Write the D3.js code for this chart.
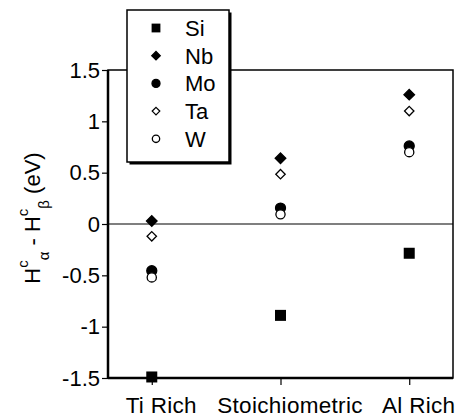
<!DOCTYPE html>
<html><head><meta charset="utf-8">
<script src="https://cdn.jsdelivr.net/npm/d3@7"></script>
<style>body{margin:0;background:#fff}</style>
</head><body><svg id="c" width="466" height="417"></svg>
<script>
const categories = ["Ti Rich", "Stoichiometric", "Al Rich"];
const seriesNames = ["Si", "Nb", "Mo", "Ta", "W"];
const Si = [-1.49, -0.89, -0.285];
const Nb = [0.03, 0.64, 1.26];
const Mo = [-0.455, 0.155, 0.76];
const Ta = [-0.12, 0.485, 1.10];
const W  = [-0.52, 0.094, 0.70];
const yTicks = [-1.5, -1, -0.5, 0, 0.5, 1, 1.5];
const yTickLabels = ["-1.5", "-1", "-0.5", "0", "0.5", "1", "1.5"];

const seriesValues = [Si, Nb, Mo, Ta, W];
const shapes = {Si:"square", Nb:"diamond", Mo:"circle", Ta:"diamond", W:"circle"};
const filled = {Si:true, Nb:true, Mo:true, Ta:false, W:false};

const svg = d3.select("#c");
const font = "'Liberation Sans', Arial, Helvetica, sans-serif";
const L = 108, R = 453, T = 70, B = 378;

const x = d3.scalePoint().domain(categories).range([L, R]).padding(0.34);
const y = d3.scaleLinear().domain([-1.5, 1.5]).range([B, T]);

// zero line
svg.append("line").attr("x1", L).attr("x2", R).attr("y1", y(0)).attr("y2", y(0))
  .attr("stroke", "#000").attr("stroke-width", 1.2);

// frame
svg.append("rect").attr("x", L).attr("y", T).attr("width", R - L).attr("height", B - T)
  .attr("fill", "none").attr("stroke", "#000").attr("stroke-width", 1.5);
svg.append("line").attr("x1", L).attr("x2", L).attr("y1", T).attr("y2", B).attr("stroke", "#000").attr("stroke-width", 2.5);
svg.append("line").attr("x1", L).attr("x2", R).attr("y1", B).attr("y2", B).attr("stroke", "#000").attr("stroke-width", 2.5);

// y axis
const yAxis = d3.axisLeft(y).tickValues(yTicks).tickSize(6).tickPadding(2)
  .tickFormat((d, i) => yTickLabels[i]);
const gy = svg.append("g").attr("transform", `translate(${L},0)`).call(yAxis);
gy.select(".domain").remove();
gy.selectAll("line").attr("stroke-width", 1.2);
gy.selectAll("text").attr("font-family", font).attr("font-size", 22).attr("fill", "#000");

// x axis
const xAxis = d3.axisBottom(x).tickSize(7).tickPadding(12);
const gx = svg.append("g").attr("transform", `translate(0,${B})`).call(xAxis);
gx.select(".domain").remove();
gx.selectAll("line").attr("stroke-width", 1.2);
gx.selectAll("text").attr("font-family", font).attr("font-size", 22.5).attr("fill", "#000")
  .attr("dx", 9).attr("letter-spacing", 0.3);

// markers
function drawMarker(g, shape, fill, cx, cy, s) {
  const sw = 1.3;
  if (shape === "square") {
    const h = 5.5 * s;
    g.append("rect").attr("x", cx - h).attr("y", cy - h).attr("width", 2 * h).attr("height", 2 * h)
      .attr("fill", "#000");
  } else if (shape === "diamond") {
    const r = (fill ? 5.3 : 4.7) * s;
    g.append("path").attr("d", `M${cx},${cy - r}L${cx + r},${cy}L${cx},${cy + r}L${cx - r},${cy}Z`)
      .attr("fill", fill ? "#000" : "#fff").attr("stroke", "#000").attr("stroke-width", sw);
  } else {
    g.append("circle").attr("cx", cx).attr("cy", cy).attr("r", (fill ? 5 : 4.6) * s)
      .attr("fill", fill ? "#000" : "#fff").attr("stroke", "#000").attr("stroke-width", sw);
  }
}
const gm = svg.append("g");
seriesNames.forEach((name, si) => {
  seriesValues[si].forEach((v, ci) => {
    drawMarker(gm, shapes[name], filled[name], x(categories[ci]), y(v), 1);
  });
});

// legend
const lg = svg.append("g");
lg.append("rect").attr("x", 129.5).attr("y", 12.5).attr("width", 102).attr("height", 152).attr("fill", "#000");
lg.append("rect").attr("x", 127).attr("y", 10).attr("width", 102).attr("height", 152)
  .attr("fill", "#fff").attr("stroke", "#000").attr("stroke-width", 1.5);
seriesNames.forEach((name, i) => {
  const cy = 28 + i * 27.7;
  drawMarker(lg, shapes[name], filled[name], 156, cy, 0.8);
  lg.append("text").attr("x", 185).attr("y", cy + 8).text(name)
    .attr("font-family", font).attr("font-size", 22).attr("fill", "#000");
});

// y label
const yl = svg.append("text").attr("transform", "translate(40,218) rotate(-90)")
  .attr("text-anchor", "middle").attr("font-family", font).attr("font-size", 22).attr("fill", "#000");
yl.append("tspan").text("H");
yl.append("tspan").text("c").attr("font-size", 15).attr("dy", -12);
yl.append("tspan").text("α").attr("font-size", 15).attr("dy", 21);
yl.append("tspan").text(" - H").attr("dy", -9);
yl.append("tspan").text("c").attr("font-size", 15).attr("dy", -12);
yl.append("tspan").text("β").attr("font-size", 15).attr("dy", 21);
yl.append("tspan").text(" (eV)").attr("dy", -9);
</script></body></html>
